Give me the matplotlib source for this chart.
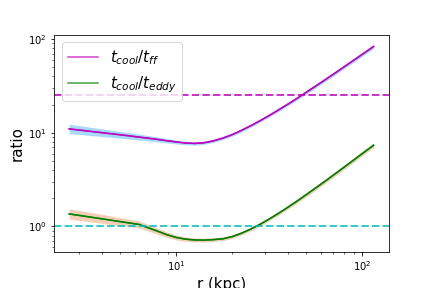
import numpy as np
import matplotlib
matplotlib.use('Agg')
import matplotlib.pyplot as plt

# radius (kpc)
r = [2.66, 3.16, 3.98, 5.01, 6.31, 7.94, 8.91, 10.0, 11.2, 12.6, 14.1, 15.8, 17.8,
     20.0, 22.4, 25.1, 28.2, 31.6, 35.5, 39.8, 44.7, 50.1, 56.2, 63.1, 70.8, 79.4,
     89.1, 100.0, 115.0]

# t_cool / t_ff
tff = [10.99, 10.57, 10.02, 9.51, 8.99, 8.49, 8.22, 7.98, 7.78, 7.69, 7.82, 8.18, 8.77,
       9.55, 10.59, 11.86, 13.43, 15.28, 17.54, 20.18, 23.33, 27.10, 31.48, 36.73, 42.85,
       50.12, 58.61, 68.71, 83.2]
# spread of t_cool / t_ff (dex)
tff_err = [0.05, 0.046, 0.041, 0.036, 0.031, 0.026, 0.023, 0.021, 0.019, 0.017, 0.016,
           0.016, 0.016, 0.016, 0.016, 0.016, 0.016, 0.017, 0.017, 0.018, 0.018, 0.018,
           0.019, 0.019, 0.02, 0.02, 0.02, 0.021, 0.022]

# t_cool / t_eddy
tedd = [1.361, 1.294, 1.208, 1.127, 1.052, 0.891, 0.817, 0.764, 0.733, 0.718, 0.715,
        0.724, 0.739, 0.780, 0.847, 0.937, 1.054, 1.202, 1.383, 1.603, 1.871, 2.193,
        2.578, 3.041, 3.597, 4.256, 5.047, 5.998, 7.36]
# spread of t_cool / t_eddy (dex)
tedd_err = [0.055, 0.052, 0.048, 0.043, 0.038, 0.033, 0.03, 0.027, 0.024, 0.022, 0.021,
            0.02, 0.02, 0.02, 0.02, 0.02, 0.02, 0.02, 0.021, 0.021, 0.022, 0.022, 0.023,
            0.023, 0.024, 0.024, 0.025, 0.025, 0.026]

tff_line = 25.5
teddy_line = 1.0

r = np.array(r)
tff = np.array(tff)
tedd = np.array(tedd)
tff_err = np.array(tff_err)
tedd_err = np.array(tedd_err)

fig, ax = plt.subplots(figsize=(6, 4), dpi=72)
fig.subplots_adjust(left=0.125, right=0.9, top=0.88, bottom=0.125)

ax.fill_between(r, tff / 10**tff_err, tff * 10**tff_err,
                color='lightskyblue', alpha=0.75, lw=0)
ax.fill_between(r, tedd / 10**tedd_err, tedd * 10**tedd_err,
                color='#e8a070', alpha=0.5, lw=0)

ax.plot(r, tff, color='m', alpha=0.75, lw=1.5, label=r'$t_{cool}/t_{ff}$')
ax.plot(r, tff, color='m', lw=1.5)
ax.plot(r, tedd, color='green', alpha=0.75, lw=1.5, label=r'$t_{cool}/t_{eddy}$')
ax.plot(r, tedd, color='green', lw=1.5)

ax.axhline(tff_line, color='m', alpha=0.8, ls='--', lw=2)
ax.axhline(teddy_line, color='c', alpha=0.8, ls='--', lw=2)

ax.set_xscale('log')
ax.set_yscale('log')
ax.set_xlabel('r (kpc)', fontsize=15)
ax.set_ylabel('ratio', fontsize=15)
ax.legend(loc='upper left', fontsize=15)

fig.savefig('out.png', dpi=72)
